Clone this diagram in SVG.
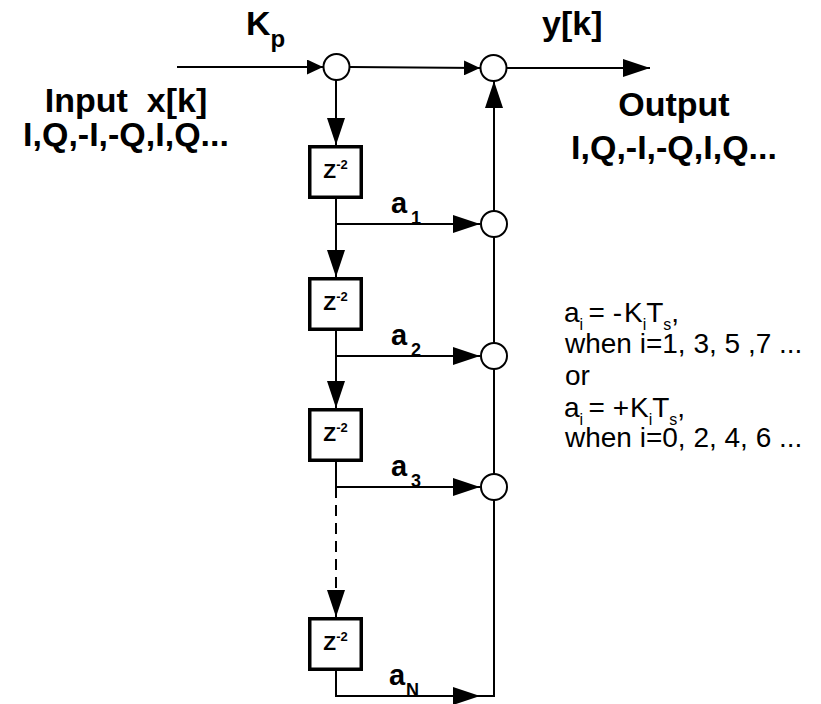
<svg xmlns="http://www.w3.org/2000/svg" width="821" height="704" viewBox="0 0 821 704">
<style>
.ln{fill:none;stroke:#000;stroke-width:2}
.dash{stroke-dasharray:11 7}
.box{fill:#fff;stroke:#000;stroke-width:3.5}
.sum{fill:#fff;stroke:#000;stroke-width:2}
.big{font-family:"Liberation Sans",Arial,sans-serif;font-weight:bold;font-size:34px;fill:#000}
.z{font-family:"Liberation Sans",Arial,sans-serif;font-weight:bold;font-size:21px;fill:#000}
.zs{font-size:13px}
.co{font-family:"Liberation Sans",Arial,sans-serif;font-weight:bold;font-size:29px;fill:#000}
.cs{font-size:18px}
.note{font-family:"Liberation Sans",Arial,sans-serif;font-size:28px;fill:#000}
.sb{font-size:16px}
</style>
<defs>
<marker id="ah" viewBox="0 0 27 18" refX="27" refY="9" markerWidth="27" markerHeight="18" markerUnits="userSpaceOnUse" orient="auto"><path d="M0,0 L27,9 L0,18 Z" fill="#000"/></marker>
<marker id="as" viewBox="0 0 16 15" refX="16" refY="7.5" markerWidth="16" markerHeight="15" markerUnits="userSpaceOnUse" orient="auto"><path d="M0,0 L16,7.5 L0,15 Z" fill="#000"/></marker>
</defs>

<g id="connectors">
<path class="ln" d="M177,67 H323" marker-end="url(#as)"/>
<path class="ln" d="M350,67 L480,68" marker-end="url(#as)"/>
<path class="ln" d="M507,68 H650" marker-end="url(#ah)"/>
<path class="ln" d="M336,80 V145" marker-end="url(#ah)"/>
<path class="ln" d="M336,199 V277" marker-end="url(#ah)"/>
<path class="ln" d="M336,224 H480" marker-end="url(#ah)"/>
<path class="ln" d="M336,331 V408" marker-end="url(#ah)"/>
<path class="ln" d="M336,356 H480" marker-end="url(#ah)"/>
<path class="ln" d="M336,462 V487"/>
<path class="ln dash" d="M336,487 V617" marker-end="url(#ah)"/>
<path class="ln" d="M336,487 H480" marker-end="url(#ah)"/>
<path class="ln" d="M336,671 V696 H480" marker-end="url(#ah)"/>
<path class="ln" d="M480,696 H494 V81" marker-end="url(#ah)"/>
</g>

<g id="sum-in"><circle class="sum" cx="336.5" cy="67" r="13"/></g>
<g id="sum-out"><circle class="sum" cx="493.5" cy="68" r="13"/></g>
<g id="sum-1"><circle class="sum" cx="494" cy="224" r="13"/></g>
<g id="sum-2"><circle class="sum" cx="494" cy="356" r="13"/></g>
<g id="sum-3"><circle class="sum" cx="494" cy="487" r="13"/></g>

<g id="delay-1"><rect class="box" x="309.75" y="146.75" width="51.5" height="50.5"/><text class="z" x="335.5" y="178" text-anchor="middle">Z<tspan class="zs" dy="-9">-2</tspan></text></g>
<g id="delay-2"><rect class="box" x="309.75" y="278.75" width="51.5" height="50.5"/><text class="z" x="335.5" y="310" text-anchor="middle">Z<tspan class="zs" dy="-9">-2</tspan></text></g>
<g id="delay-3"><rect class="box" x="309.75" y="409.75" width="51.5" height="50.5"/><text class="z" x="335.5" y="441" text-anchor="middle">Z<tspan class="zs" dy="-9">-2</tspan></text></g>
<g id="delay-N"><rect class="box" x="309.75" y="618.75" width="51.5" height="50.5"/><text class="z" x="335.5" y="650" text-anchor="middle">Z<tspan class="zs" dy="-9">-2</tspan></text></g>

<g id="labels">
<text class="big" x="246" y="35">K<tspan dy="12" font-size="24">p</tspan></text>
<text class="big" x="542" y="35">y[k]</text>
<text class="big" x="126" y="112" text-anchor="middle" xml:space="preserve">Input  x[k]</text>
<text class="big" x="126" y="146" text-anchor="middle">I,Q,-I,-Q,I,Q...</text>
<text class="big" x="674" y="116" text-anchor="middle">Output</text>
<text class="big" x="674" y="159" text-anchor="middle">I,Q,-I,-Q,I,Q...</text>
<text class="co" x="391" y="213">a<tspan class="cs" x="411" dy="11">1</tspan></text>
<text class="co" x="391" y="345">a<tspan class="cs" x="411" dy="11">2</tspan></text>
<text class="co" x="391" y="476">a<tspan class="cs" x="411" dy="11">3</tspan></text>
<text class="co" x="389" y="685">a<tspan class="cs" x="406" dy="11" font-size="19">N</tspan></text>
</g>

<g id="note">
<text class="note" x="564" y="322">a<tspan class="sb" dy="8">i</tspan><tspan x="588.5" dy="-8">= -</tspan><tspan x="624">K</tspan><tspan class="sb" dy="8">i</tspan><tspan dy="-8">T</tspan><tspan class="sb" dy="8">s</tspan><tspan dy="-8">,</tspan></text>
<text class="note" x="565" y="353">when i=1, 3, 5 ,7 ...</text>
<text class="note" x="565" y="385">or</text>
<text class="note" x="564" y="417">a<tspan class="sb" dy="8">i</tspan><tspan x="588.5" dy="-8">= +</tspan><tspan x="630">K</tspan><tspan class="sb" dy="8">i</tspan><tspan dy="-8">T</tspan><tspan class="sb" dy="8">s</tspan><tspan dy="-8">,</tspan></text>
<text class="note" x="565" y="447">when i=0, 2, 4, 6 ...</text>
</g>
</svg>
